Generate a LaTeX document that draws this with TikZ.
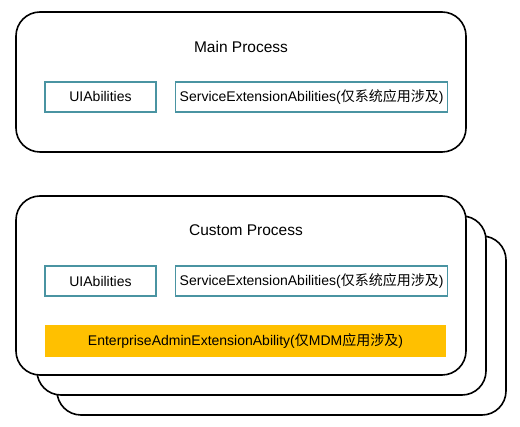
\documentclass[tikz,border=0pt]{standalone}
\usepackage{fontspec}
\setmainfont{Liberation Sans}
\newfontfamily\cjk{Noto Sans CJK SC}
\usetikzlibrary{positioning}
\definecolor{abilityteal}{HTML}{4A94A2}
\definecolor{mdmgold}{HTML}{FFC000}
\tikzset{
  process/.style={draw=black,line width=1.6pt,rounded corners=24pt,fill=white},
  ability/.style={draw=abilityteal,line width=1.6pt,inner sep=0pt,minimum height=30pt,font=\fontsize{14}{16}\selectfont},
  mdm/.style={fill=mdmgold,inner sep=0pt,minimum height=32pt,minimum width=401pt,font=\fontsize{14}{16}\selectfont},
  title/.style={font=\fontsize{15.5}{18}\selectfont}
}
\begin{document}
\begin{tikzpicture}[x=1pt,y=-1pt]
\useasboundingbox (0,0) rectangle (520,427);
% main process
\draw [process] (16,12) rectangle (466,152);
\node [title] (MainT) at (241,47) {Main Process};
\node [ability,minimum width=111pt] (MainUI) at (100.5,97) {UIAbilities};
\node [ability,minimum width=272pt,right=18pt of MainUI] (MainSE) {ServiceExtensionAbilities({\cjk 仅系统应用涉及})};
% custom processes, stacked
\draw [process] (57,236) rectangle (506,415);
\draw [process] (37,216) rectangle (486,395);
\draw [process] (16,196) rectangle (466,375);
\node [title] (CustT) at (246,230) {Custom Process};
\node [ability,minimum width=111pt] (CustUI) at (100.5,281) {UIAbilities};
\node [ability,minimum width=272pt,right=18pt of CustUI] (CustSE) {ServiceExtensionAbilities({\cjk 仅系统应用涉及})};
\node [mdm] (CustEA) at (245.5,341) {EnterpriseAdminExtensionAbility({\cjk 仅}MDM{\cjk 应用涉及})};
\end{tikzpicture}
\end{document}
